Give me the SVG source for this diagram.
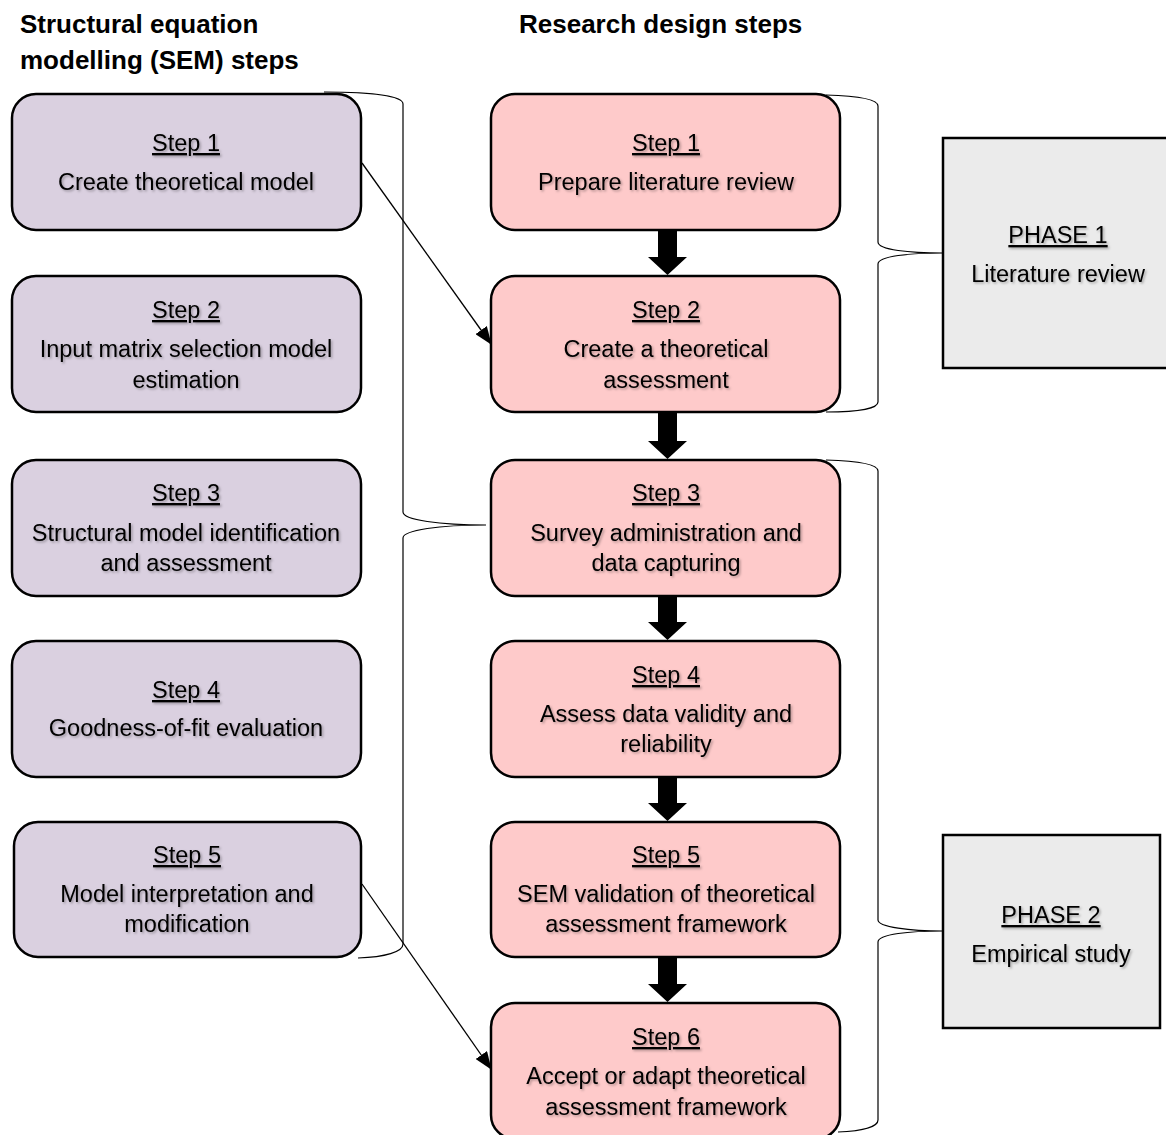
<svg xmlns="http://www.w3.org/2000/svg" width="1166" height="1135" viewBox="0 0 1166 1135">
  <style>
    text { font-family: "Liberation Sans", Arial, sans-serif; fill: #000; }
    .head { font-size: 26px; font-weight: bold; }
    .lbl { font-size: 23.5px; text-anchor: middle; filter: url(#txtShadow); }
    .u { text-decoration: underline; }
    .sem { fill: #DAD0E0; stroke: #000; stroke-width: 2.5; }
    .res { fill: #FECACA; stroke: #000; stroke-width: 2.5; }
    .phase { fill: #EBEBEB; stroke: #000; stroke-width: 2.5; }
    .brace { fill: none; stroke: #000; stroke-width: 1.2; }
    .link { fill: none; stroke: #000; stroke-width: 1.3; }
    .block { fill: #000; stroke: none; }
  </style>
  <defs>
    <filter id="txtShadow" x="-10%" y="-30%" width="120%" height="160%">
      <feDropShadow dx="1.5" dy="1.5" stdDeviation="0.8" flood-color="#000" flood-opacity="0.3"/>
    </filter>
    <marker id="arrowHead" markerUnits="userSpaceOnUse" markerWidth="18" markerHeight="14" refX="17" refY="7" orient="auto">
      <path d="M0,0 L18,7 L0,14 Z" fill="#000"/>
    </marker>
  </defs>

  <rect width="1166" height="1135" fill="#fff"/>

  <!-- column headings -->
  <g id="heading-sem">
    <text class="head" x="20" y="33">Structural equation</text>
    <text class="head" x="20" y="69">modelling (SEM) steps</text>
  </g>
  <g id="heading-research">
    <text class="head" x="519" y="33">Research design steps</text>
  </g>

  <!-- SEM steps -->
  <g id="sem-step1">
    <rect class="sem" x="12" y="94" width="349" height="136" rx="24"/>
    <text class="lbl u" x="186" y="151">Step 1</text>
    <text class="lbl" x="186" y="190">Create theoretical model</text>
  </g>
  <g id="sem-step2">
    <rect class="sem" x="12" y="276" width="349" height="136" rx="24"/>
    <text class="lbl u" x="186" y="318">Step 2</text>
    <text class="lbl" x="186" y="357">Input matrix selection model</text>
    <text class="lbl" x="186" y="388">estimation</text>
  </g>
  <g id="sem-step3">
    <rect class="sem" x="12" y="460" width="349" height="136" rx="24"/>
    <text class="lbl u" x="186" y="501">Step 3</text>
    <text class="lbl" x="186" y="541">Structural model identification</text>
    <text class="lbl" x="186" y="571">and assessment</text>
  </g>
  <g id="sem-step4">
    <rect class="sem" x="12" y="641" width="349" height="136" rx="24"/>
    <text class="lbl u" x="186" y="698">Step 4</text>
    <text class="lbl" x="186" y="736">Goodness-of-fit evaluation</text>
  </g>
  <g id="sem-step5">
    <rect class="sem" x="14" y="822" width="347" height="135" rx="24"/>
    <text class="lbl u" x="187" y="863">Step 5</text>
    <text class="lbl" x="187" y="902">Model interpretation and</text>
    <text class="lbl" x="187" y="932">modification</text>
  </g>

  <!-- Research design steps -->
  <g id="res-step1">
    <rect class="res" x="491" y="94" width="349" height="136" rx="24"/>
    <text class="lbl u" x="666" y="151">Step 1</text>
    <text class="lbl" x="666" y="190">Prepare literature review</text>
  </g>
  <g id="res-step2">
    <rect class="res" x="491" y="276" width="349" height="136" rx="24"/>
    <text class="lbl u" x="666" y="318">Step 2</text>
    <text class="lbl" x="666" y="357">Create a theoretical</text>
    <text class="lbl" x="666" y="388">assessment</text>
  </g>
  <g id="res-step3">
    <rect class="res" x="491" y="460" width="349" height="136" rx="24"/>
    <text class="lbl u" x="666" y="501">Step 3</text>
    <text class="lbl" x="666" y="541">Survey administration and</text>
    <text class="lbl" x="666" y="571">data capturing</text>
  </g>
  <g id="res-step4">
    <rect class="res" x="491" y="641" width="349" height="136" rx="24"/>
    <text class="lbl u" x="666" y="683">Step 4</text>
    <text class="lbl" x="666" y="722">Assess data validity and</text>
    <text class="lbl" x="666" y="752">reliability</text>
  </g>
  <g id="res-step5">
    <rect class="res" x="491" y="822" width="349" height="135" rx="24"/>
    <text class="lbl u" x="666" y="863">Step 5</text>
    <text class="lbl" x="666" y="902">SEM validation of theoretical</text>
    <text class="lbl" x="666" y="932">assessment framework</text>
  </g>
  <g id="res-step6">
    <rect class="res" x="491" y="1003" width="349" height="136" rx="24"/>
    <text class="lbl u" x="666" y="1045">Step 6</text>
    <text class="lbl" x="666" y="1084">Accept or adapt theoretical</text>
    <text class="lbl" x="666" y="1115">assessment framework</text>
  </g>

  <!-- phase boxes -->
  <g id="phase1">
    <rect class="phase" x="943" y="138" width="232" height="230"/>
    <text class="lbl u" x="1058" y="243">PHASE 1</text>
    <text class="lbl" x="1058" y="282">Literature review</text>
  </g>
  <g id="phase2">
    <rect class="phase" x="943" y="835" width="217" height="193"/>
    <text class="lbl u" x="1051" y="923">PHASE 2</text>
    <text class="lbl" x="1051" y="962">Empirical study</text>
  </g>

  <!-- connectors: braces, block arrows and links -->
  <g id="connectors">
    <path class="brace" d="M 324 92 C 372 92, 403 96, 403 104 L 403 512 C 403 520, 440 525, 486 525 C 440 525, 403 530, 403 538 L 403 944 C 403 952, 385 957, 358 958"/>
    <path class="brace" d="M 826 95 C 860 96, 878 100, 878 106 L 878 242 C 878 250, 910 253, 943 253 C 910 253, 878 256, 878 264 L 878 402 C 878 408, 860 412, 826 412"/>
    <path class="brace" d="M 826 460 C 860 461, 878 465, 878 471 L 878 920 C 878 927, 910 931, 943 931 C 910 931, 878 934, 878 942 L 878 1120 C 878 1127, 862 1131, 838 1132"/>

    <path class="block" d="M 658 231 L 677 231 L 677 257 L 687 257 L 667.5 275 L 648 257 L 658 257 Z"/>
    <path class="block" d="M 658 413 L 677 413 L 677 441 L 687 441 L 667.5 459 L 648 441 L 658 441 Z"/>
    <path class="block" d="M 658 597 L 677 597 L 677 622 L 687 622 L 667.5 640 L 648 622 L 658 622 Z"/>
    <path class="block" d="M 658 778 L 677 778 L 677 803 L 687 803 L 667.5 821 L 648 803 L 658 803 Z"/>
    <path class="block" d="M 658 958 L 677 958 L 677 984 L 687 984 L 667.5 1002 L 648 984 L 658 984 Z"/>

    <line class="link" x1="362" y1="163" x2="491" y2="344" marker-end="url(#arrowHead)"/>
    <line class="link" x1="362" y1="884" x2="491" y2="1069" marker-end="url(#arrowHead)"/>
  </g>
</svg>
